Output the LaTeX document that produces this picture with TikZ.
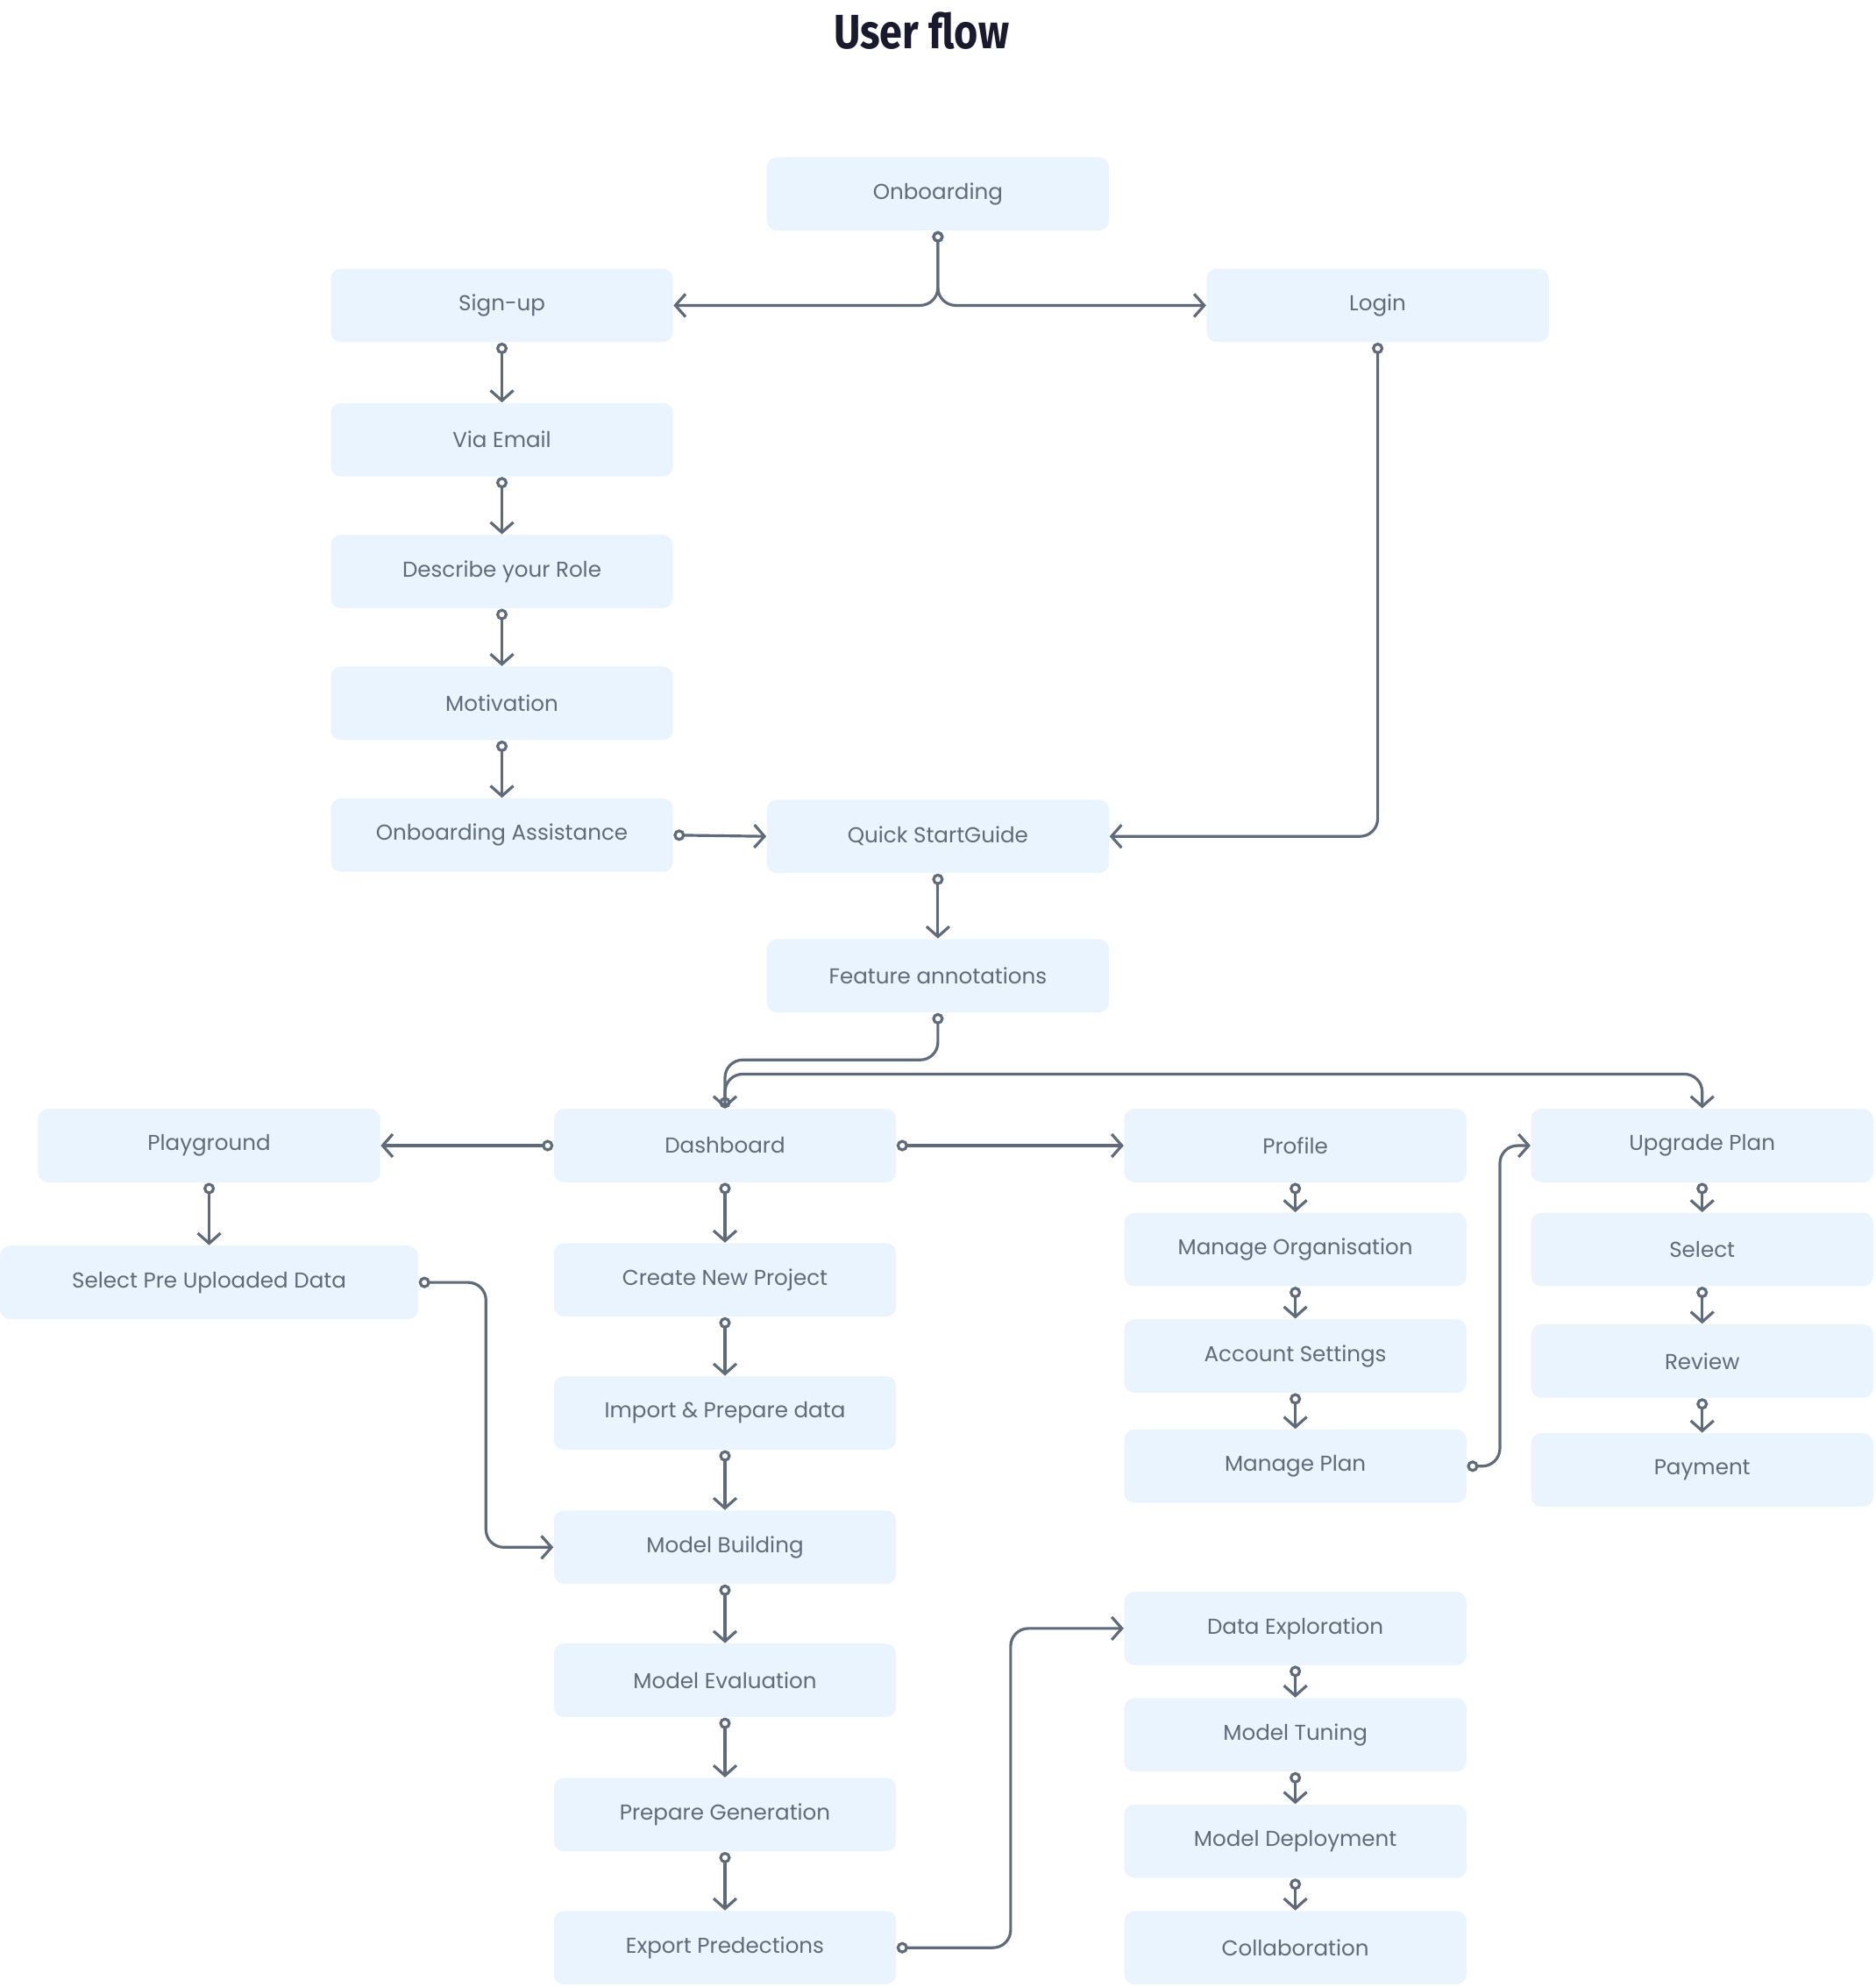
\documentclass[tikz,border=0pt]{standalone}
\usepackage{fontspec}
\setmainfont{Poppins}
\newfontfamily\titlefont{Fira Sans}[FontFace={b}{n}{Fira Sans Bold}]
\usetikzlibrary{arrows.meta}
\definecolor{boxfill}{HTML}{EAF4FE}
\definecolor{ln}{HTML}{5F6B7A}
\definecolor{ttl}{HTML}{1A1A2E}
\begin{document}
\begin{tikzpicture}[x=0.5pt,y=-0.5pt,
  box/.style={fill=boxfill,rounded corners=4pt,minimum width=135pt,minimum height=29pt,inner sep=0pt,text=ln,font=\fontsize{8.5}{10}\selectfont},
  con/.style={draw=ln,line width=1.1pt,rounded corners=7pt,{Circle[open,length=4.5pt,width=4.5pt]}-{Straight Barb[length=4pt,width=9pt]}}]
\useasboundingbox (0,0) rectangle (1480,1568);
\node[font=\titlefont\bfseries\fontsize{20}{24}\selectfont,text=ttl,scale=0.95,xscale=0.85] (title) at (727,24) {User flow};
\node[box] (onb) at (740,153) {Onboarding};
\node[box] (sign) at (396,241) {Sign-up};
\node[box] (login) at (1087,241) {Login};
\node[box] (email) at (396,347) {Via Email};
\node[box] (role) at (396,451) {Describe your Role};
\node[box] (mot) at (396,555) {Motivation};
\node[box] (assist) at (396,659) {Onboarding Assistance};
\node[box] (quick) at (740,660) {Quick StartGuide};
\node[box] (feat) at (740,770) {Feature annotations};
\node[box] (play) at (165,904) {Playground};
\node[box,minimum width=165pt] (pre) at (165,1012) {Select Pre Uploaded Data};
\node[box] (dash) at (572,904) {Dashboard};
\node[box] (create) at (572,1010) {Create New Project};
\node[box] (import) at (572,1115) {Import \& Prepare data};
\node[box] (build) at (572,1221) {Model Building};
\node[box] (eval) at (572,1326) {Model Evaluation};
\node[box] (prep) at (572,1432) {Prepare Generation};
\node[box] (export) at (572,1537) {Export Predections};
\node[box] (prof) at (1022,904) {Profile};
\node[box] (org) at (1022,986) {Manage Organisation};
\node[box] (acc) at (1022,1070) {Account Settings};
\node[box] (plan) at (1022,1157) {Manage Plan};
\node[box] (up) at (1343,904) {Upgrade Plan};
\node[box] (sel) at (1343,986) {Select};
\node[box] (rev) at (1343,1074) {Review};
\node[box] (pay) at (1343,1160) {Payment};
\node[box] (dexp) at (1022,1285) {Data Exploration};
\node[box] (tune) at (1022,1369) {Model Tuning};
\node[box] (dep) at (1022,1453) {Model Deployment};
\node[box] (col) at (1022,1537) {Collaboration};

\draw[con] (onb.south) |- (sign.east);
\draw[con] (onb.south) |- (login.west);
\draw[con] (login.south) |- (quick.east);
\draw[con] (assist.east) -- (quick.west);
\draw[con] (feat.south) -- ++(0,37) -| (dash.north);
\draw[con] (dash.north) -- ++(0,-27) -| (up.north);
\draw[con] (dash.west) -- (play.east);
\draw[con] (dash.east) -- (prof.west);
\draw[con] (pre.east) -- ++(53,0) |- (build.west);
\draw[con] (plan.east) -- ++(26,0) |- (up.west);
\draw[con] (export.east) -- ++(90,0) |- (dexp.west);
\foreach \a/\b in {sign/email,email/role,role/mot,mot/assist,quick/feat,play/pre,dash/create,create/import,import/build,build/eval,eval/prep,prep/export,prof/org,org/acc,acc/plan,up/sel,sel/rev,rev/pay,dexp/tune,tune/dep,dep/col}
  \draw[con] (\a.south) -- (\b.north);
\end{tikzpicture}
\end{document}
